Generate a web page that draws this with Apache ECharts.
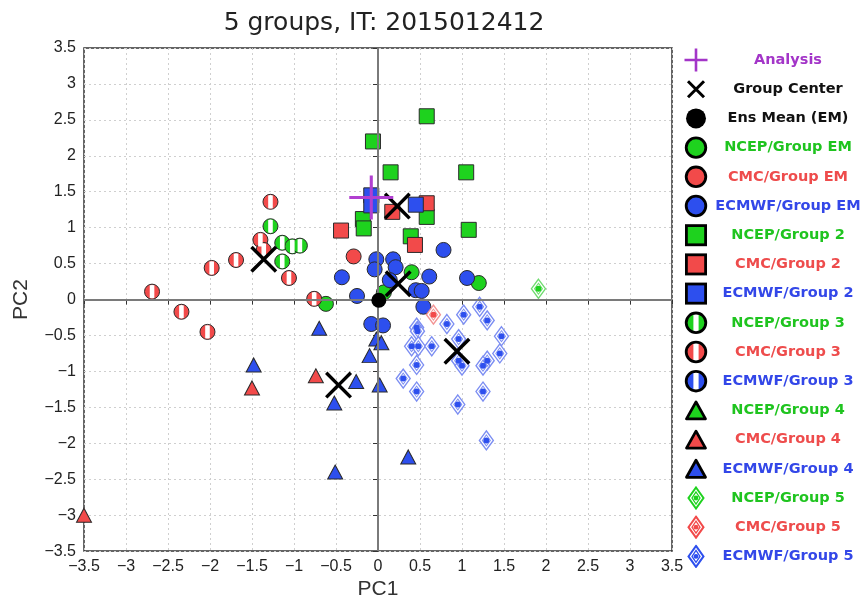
<!DOCTYPE html>
<html><head><meta charset="utf-8">
<script src="https://cdn.jsdelivr.net/npm/echarts@6/dist/echarts.min.js"></script>
<style>html,body{margin:0;padding:0;background:#fff}#c{width:860px;height:605px}</style>
</head><body><div id="c"></div>
<script>
// ---------------- data ----------------
const titleText = '5 groups, IT: 2015012412';
const tickValues = [-3.5,-3,-2.5,-2,-1.5,-1,-0.5,0,0.5,1,1.5,2,2.5,3,3.5];
const xName = 'PC1';
const yName = 'PC2';

const analysis = [[-0.08, 1.42]];
const groupCenters = [[-1.36, 0.56], [0.23, 1.30], [0.24, 0.22], [-0.47, -1.19], [0.94, -0.72]];
const ensMean = [[0.01, -0.01]];

const ncepEM = [[0.40, 0.38], [1.20, 0.23], [0.07, 0.10], [-0.62, -0.06]];
const cmcEM = [[-0.29, 0.60]];
const ecmwfEM = [[-0.02, 0.56], [0.18, 0.56], [-0.04, 0.42], [0.21, 0.45], [-0.43, 0.31], [0.78, 0.69],
  [0.61, 0.32], [1.06, 0.30], [0.14, 0.27], [-0.25, 0.05], [0.45, 0.13], [0.52, 0.12], [0.54, -0.10],
  [-0.08, -0.34], [0.06, -0.36]];

const ncepG2 = [[0.58, 2.55], [-0.06, 2.20], [0.15, 1.77], [1.05, 1.77], [0.58, 1.15], [-0.18, 1.12],
  [-0.17, 0.99], [1.08, 0.97], [0.39, 0.88]];
const cmcG2 = [[-0.44, 0.96], [0.17, 1.22], [0.58, 1.34], [0.44, 0.76]];
const ecmwfG2 = [[-0.08, 1.45], [-0.08, 1.31], [0.45, 1.32]];

const ncepG3 = [[-1.28, 1.02], [-1.14, 0.79], [-1.14, 0.53], [-1.02, 0.74], [-0.93, 0.75]];
const cmcG3 = [[-1.28, 1.36], [-1.40, 0.83], [-1.36, 0.69], [-1.69, 0.55], [-1.98, 0.44], [-2.69, 0.11],
  [-1.06, 0.30], [-0.76, 0.01], [-2.34, -0.17], [-2.03, -0.45]];
const ecmwfG3 = [];

const ncepG4 = [];
const cmcG4 = [[-1.50, -1.23], [-0.74, -1.06], [-3.50, -3.00]];
const ecmwfG4 = [[-1.48, -0.91], [-0.70, -0.40], [-0.02, -0.55], [0.04, -0.60], [-0.10, -0.78],
  [-0.26, -1.14], [0.02, -1.19], [-0.52, -1.44], [-0.51, -2.40], [0.36, -2.19]];

const ncepG5 = [[1.91, 0.15]];
const cmcG5 = [[0.66, -0.21]];
const ecmwfG5 = [[1.21, -0.10], [1.02, -0.21], [1.30, -0.29], [0.82, -0.34], [0.46, -0.39], [0.47, -0.44],
  [1.47, -0.51], [0.96, -0.55], [0.40, -0.65], [0.48, -0.65], [0.64, -0.65], [1.45, -0.75], [0.96, -0.85],
  [1.00, -0.92], [1.30, -0.85], [1.25, -0.92], [0.46, -0.91], [0.30, -1.10], [0.46, -1.28], [1.25, -1.28],
  [0.95, -1.46], [1.29, -1.96]];

// ---------------- styles ----------------
const GREEN = '#1ed21e', RED = '#f24a4a', BLUE = '#2d4fee';
const LGREEN = '#6fdc6f', LRED = '#f39494', LBLUE = '#7c8ef2';
const TGREEN = '#1fc41f', TRED = '#ee4c4c', TBLUE = '#3347e8', TPURPLE = '#a335c8';
const XPATH = 'path://M0,9L9,0L50,41L91,0L100,9L59,50L100,91L91,100L50,59L9,100L0,91L41,50Z';
const PLUSPATH = 'path://M46.5,0H53.5V46.5H100V53.5H53.5V100H46.5V53.5H0V46.5H46.5Z';
const STRIPE = 'path://M-0.33,-0.944A1,1,0,0,1,0.33,-0.944L0.33,0.944A1,1,0,0,1,-0.33,0.944Z';

function svgIcon(inner) {
  return 'image://data:image/svg+xml;charset=utf-8,' + encodeURIComponent(
    "<svg xmlns='http://www.w3.org/2000/svg' width='48' height='48' viewBox='0 0 24 24'>" + inner + "</svg>");
}
const icon = {
  plus: () => svgIcon("<path d='M12 0.5V23.5M0.5 12H23.5' stroke='" + TPURPLE + "' stroke-width='2.6' fill='none'/>"),
  cross: () => svgIcon("<path d='M4 4L20 20M20 4L4 20' stroke='#000' stroke-width='3' fill='none'/>"),
  dot: () => svgIcon("<circle cx='12' cy='12' r='10' fill='#000'/>"),
  circle: c => svgIcon("<circle cx='12' cy='12' r='9.8' fill='" + c + "' stroke='#000' stroke-width='2.8'/>"),
  square: c => svgIcon("<rect x='2.4' y='2.4' width='19.2' height='19.2' fill='" + c + "' stroke='#000' stroke-width='2.8'/>"),
  striped: c => svgIcon("<circle cx='12' cy='12' r='9.8' fill='" + c + "'/><rect x='9.4' y='1' width='5.2' height='22' fill='#fff'/><circle cx='12' cy='12' r='9.8' fill='none' stroke='#000' stroke-width='2.8'/>"),
  triangle: c => svgIcon("<path d='M12 3.5L21.5 20.5H2.5Z' fill='" + c + "' stroke='#000' stroke-width='2.8' stroke-linejoin='round'/>"),
  diamond: c => svgIcon("<path d='M12 1.5L19.5 12L12 22.5L4.5 12Z' fill='#fff' stroke='" + c + "' stroke-width='2'/><path d='M12 6L16 12L12 18L8 12Z' fill='none' stroke='" + c + "' stroke-width='1.3'/><circle cx='12' cy='12' r='2.4' fill='" + c + "'/>")
};

function sc(name, data, symbol, size, itemStyle, z) {
  return { type: 'scatter', name, data, symbol, symbolSize: size,
    itemStyle: Object.assign({ opacity: 1 }, itemStyle), z,
    emphasis: { disabled: true }, silent: true };
}
const edge = { borderColor: '#2a2a2a', borderWidth: 1 };

const series = [];
// zero lines
series.push({ type: 'scatter', name: '_zero', data: [], z: 1, silent: true,
  markLine: { silent: true, symbol: ['none', 'none'], label: { show: false },
    lineStyle: { color: '#7a7a7a', width: 2, type: 'solid' }, animation: false,
    data: [{ xAxis: 0 }, { yAxis: 0 }] } });

// group EM circles
series.push(sc('NCEP/Group EM', ncepEM, 'circle', 15, Object.assign({ color: GREEN }, edge), 3));
series.push(sc('CMC/Group EM', cmcEM, 'circle', 15, Object.assign({ color: RED }, edge), 3));
series.push(sc('ECMWF/Group EM', ecmwfEM, 'circle', 15, Object.assign({ color: BLUE }, edge), 3));
// group 2 squares
series.push(sc('NCEP/Group 2', ncepG2, 'rect', 15, Object.assign({ color: GREEN }, edge), 3));
series.push(sc('CMC/Group 2', cmcG2, 'rect', 15, Object.assign({ color: RED }, edge), 3));
series.push(sc('ECMWF/Group 2', ecmwfG2, 'rect', 15, Object.assign({ color: BLUE }, edge), 3));
// group 3 striped circles
[['NCEP/Group 3', ncepG3, GREEN], ['CMC/Group 3', cmcG3, RED], ['ECMWF/Group 3', ecmwfG3, BLUE]].forEach(([n, d, c]) => {
  series.push(sc(n, d, 'circle', 15, Object.assign({ color: c }, edge), 3));
  series.push(sc(n, d, STRIPE, [4.6, 13.4], { color: '#ffffff' }, 3));
});
// group 4 triangles
series.push(sc('NCEP/Group 4', ncepG4, 'triangle', [15, 14], Object.assign({ color: GREEN }, edge), 3));
series.push(sc('CMC/Group 4', cmcG4, 'triangle', [15, 14], Object.assign({ color: RED }, edge), 3));
series.push(sc('ECMWF/Group 4', ecmwfG4, 'triangle', [15, 14], Object.assign({ color: BLUE }, edge), 3));
// group 5 diamonds with dot
[['NCEP/Group 5', ncepG5, GREEN, LGREEN], ['CMC/Group 5', cmcG5, RED, LRED], ['ECMWF/Group 5', ecmwfG5, BLUE, LBLUE]].forEach(([n, d, c, lc]) => {
  series.push(sc(n, d, 'diamond', [14, 19], { color: '#ffffff', borderColor: lc, borderWidth: 1.4 }, 3));
  series.push(sc(n, d, 'diamond', [8, 11], { color: 'rgba(255,255,255,0)', borderColor: lc, borderWidth: 1 }, 3));
  series.push(sc(n, d, 'circle', 6, { color: c }, 3));
});
// ensemble mean, centers, analysis
series.push(sc('Ens Mean (EM)', ensMean, 'circle', 15, { color: '#000' }, 5));
series.push(sc('Group Center', groupCenters, XPATH, 27, { color: '#000' }, 6));
series.push(sc('Analysis', analysis, PLUSPATH, 44, { color: '#b13fd0' }, 7));

const legendItems = [
  ['Analysis', icon.plus(), 'p'],
  ['Group Center', icon.cross(), 'k'],
  ['Ens Mean (EM)', icon.dot(), 'k'],
  ['NCEP/Group EM', icon.circle(GREEN), 'g'],
  ['CMC/Group EM', icon.circle(RED), 'r'],
  ['ECMWF/Group EM', icon.circle(BLUE), 'b'],
  ['NCEP/Group 2', icon.square(GREEN), 'g'],
  ['CMC/Group 2', icon.square(RED), 'r'],
  ['ECMWF/Group 2', icon.square(BLUE), 'b'],
  ['NCEP/Group 3', icon.striped(GREEN), 'g'],
  ['CMC/Group 3', icon.striped(RED), 'r'],
  ['ECMWF/Group 3', icon.striped(BLUE), 'b'],
  ['NCEP/Group 4', icon.triangle(GREEN), 'g'],
  ['CMC/Group 4', icon.triangle(RED), 'r'],
  ['ECMWF/Group 4', icon.triangle(BLUE), 'b'],
  ['NCEP/Group 5', icon.diamond(GREEN), 'g'],
  ['CMC/Group 5', icon.diamond(RED), 'r'],
  ['ECMWF/Group 5', icon.diamond(BLUE), 'b']
];
const styleKey = {};
legendItems.forEach(it => { styleKey[it[0]] = it[2]; });
const legendFont = { fontFamily: 'DejaVu Sans', fontSize: 14.5, fontWeight: 'bold', width: 150, align: 'center' };

const fmt = v => (v < 0 ? '\u2212' : '') + String(Math.abs(v));
const axisCommon = {
  type: 'value', min: tickValues[0], max: tickValues[tickValues.length - 1], interval: 0.5,
  axisLine: { show: false },
  axisTick: { show: true, inside: false, length: 5, lineStyle: { color: '#333', width: 1 } },
  axisLabel: { fontFamily: 'Liberation Sans', fontSize: 16, color: '#222', formatter: fmt },
  splitLine: { show: true, lineStyle: { color: '#cfcfcf', width: 1, type: [2, 3] } },
  nameLocation: 'middle',
  nameTextStyle: { fontFamily: 'Liberation Sans', fontSize: 21, color: '#333' }
};

const chart = echarts.init(document.getElementById('c'), null, { renderer: 'canvas' });
chart.setOption({
  animation: false,
  backgroundColor: '#ffffff',
  title: { text: titleText, left: 379, top: 6, textAlign: 'center',
    textStyle: { fontFamily: 'DejaVu Sans', fontSize: 25, fontWeight: 'normal', color: '#222' } },
  grid: { left: 84, right: 188, top: 48, bottom: 47, show: true, borderColor: '#333', borderWidth: 1.5, containLabel: false },
  xAxis: Object.assign({}, axisCommon, { name: xName, nameGap: 26, axisLabel: Object.assign({}, axisCommon.axisLabel, { margin: 7 }) }),
  yAxis: Object.assign({}, axisCommon, { name: yName, nameGap: 52, axisLabel: Object.assign({}, axisCommon.axisLabel, { margin: 8 }) }),
  legend: {
    orient: 'vertical', left: 679, top: 43, itemWidth: 24, itemHeight: 24, itemGap: 5.2,
    selectedMode: false,
    data: legendItems.map(it => ({ name: it[0], icon: it[1] })),
    formatter: name => '{' + styleKey[name] + '|' + name + '}',
    textStyle: {
      rich: {
        p: Object.assign({ color: TPURPLE }, legendFont),
        k: Object.assign({ color: '#111' }, legendFont),
        g: Object.assign({ color: TGREEN }, legendFont),
        r: Object.assign({ color: TRED }, legendFont),
        b: Object.assign({ color: TBLUE }, legendFont)
      }
    }
  },
  series
});
</script>
</body></html>
